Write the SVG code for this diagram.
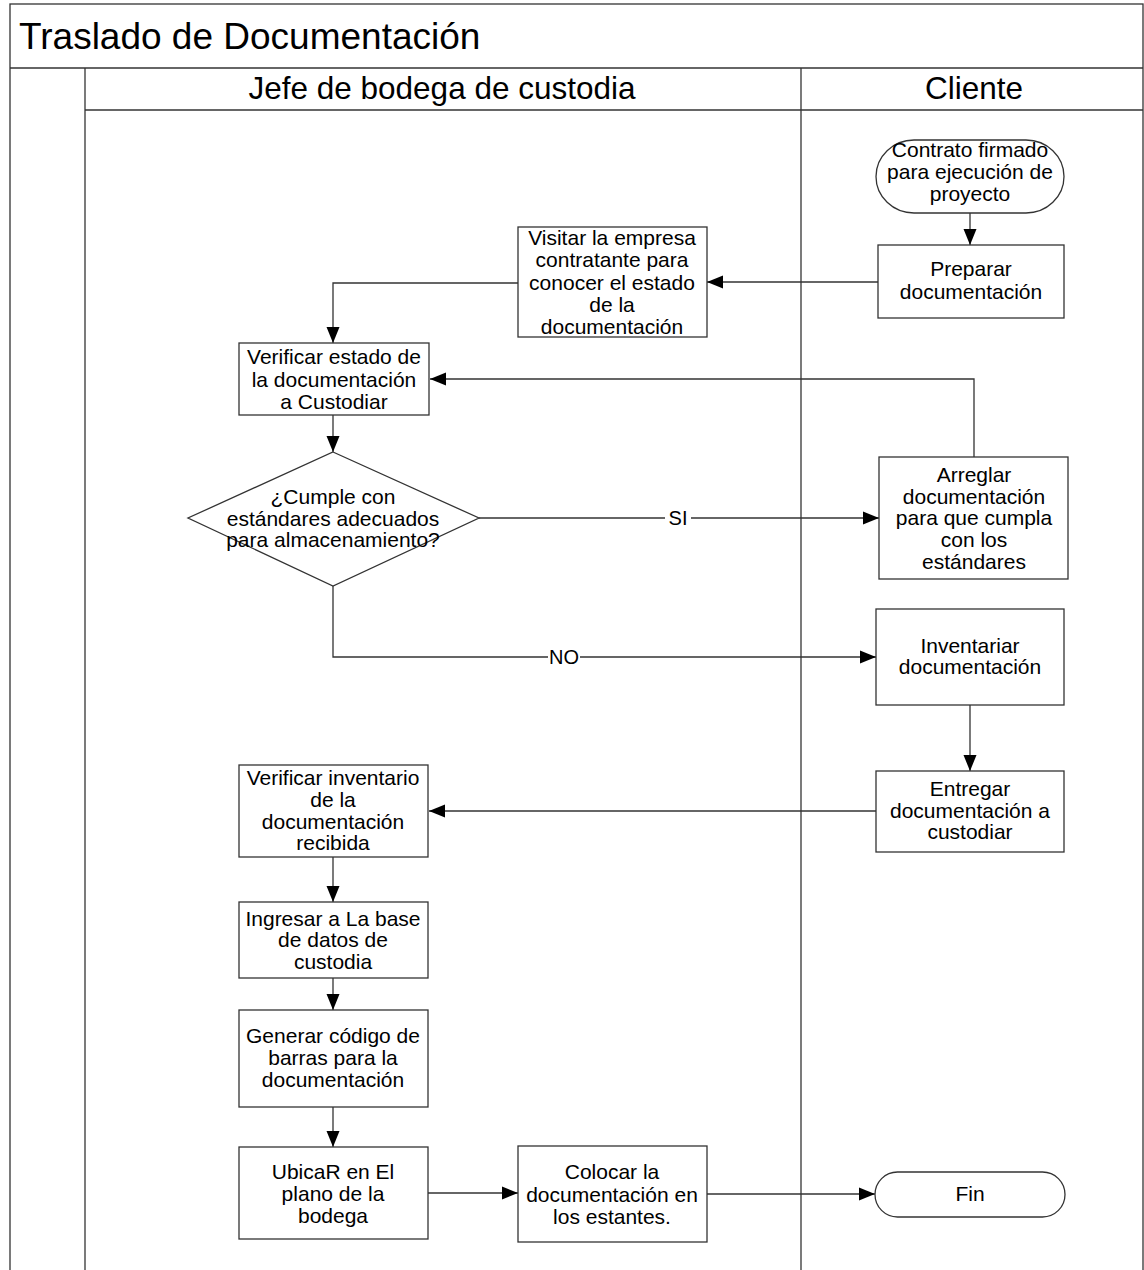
<svg xmlns="http://www.w3.org/2000/svg" width="1144" height="1270" viewBox="0 0 1144 1270">
<defs>
<marker id="arr" markerWidth="16" markerHeight="14" refX="16" refY="7" orient="auto" markerUnits="userSpaceOnUse">
<path d="M0,0.5 L16,7 L0,13.5 Z" fill="#000"/>
</marker>
<style>
.frame{fill:none;stroke:#333;stroke-width:1.3}
.box{fill:#fff;stroke:#333;stroke-width:1.3}
.t{font-family:"Liberation Sans",Arial,sans-serif;font-size:21px;fill:#000;text-anchor:middle}
.title{font-family:"Liberation Sans",Arial,sans-serif;font-size:37px;fill:#000}
.lane{font-family:"Liberation Sans",Arial,sans-serif;font-size:31.5px;fill:#000;text-anchor:middle}
.lbl{font-family:"Liberation Sans",Arial,sans-serif;font-size:20px;fill:#000;text-anchor:middle}
.c{fill:none;stroke:#333;stroke-width:1.3}
</style>
</defs>
<rect width="1144" height="1270" fill="#fff"/>
<g id="pool">
<rect class="frame" x="10" y="4" width="1133" height="1280"/>
<line class="frame" x1="10" y1="68" x2="1143" y2="68"/>
<line class="frame" x1="85" y1="68" x2="85" y2="1270"/>
<line class="frame" x1="85" y1="110" x2="1143" y2="110"/>
<line class="frame" x1="801" y1="68" x2="801" y2="1270"/>
<text class="title" x="19" y="49">Traslado de Documentación</text>
<text class="lane" x="442" y="99">Jefe de bodega de custodia</text>
<text class="lane" x="974" y="99">Cliente</text>
</g>
<g id="connectors">
<line class="c" x1="970" y1="213" x2="970" y2="245" marker-end="url(#arr)"/>
<line class="c" x1="878" y1="282" x2="707" y2="282" marker-end="url(#arr)"/>
<polyline class="c" points="518,283 333,283 333,343" marker-end="url(#arr)"/>
<line class="c" x1="333" y1="415" x2="333" y2="452" marker-end="url(#arr)"/>
<polyline class="c" points="974,457 974,379 430,379" marker-end="url(#arr)"/>
<line class="c" x1="479" y1="518" x2="879" y2="518" marker-end="url(#arr)"/>
<polyline class="c" points="333,586 333,657 876,657" marker-end="url(#arr)"/>
<line class="c" x1="970" y1="705" x2="970" y2="771" marker-end="url(#arr)"/>
<line class="c" x1="876" y1="811" x2="429" y2="811" marker-end="url(#arr)"/>
<line class="c" x1="333" y1="857" x2="333" y2="902" marker-end="url(#arr)"/>
<line class="c" x1="333" y1="978" x2="333" y2="1010" marker-end="url(#arr)"/>
<line class="c" x1="333" y1="1107" x2="333" y2="1147" marker-end="url(#arr)"/>
<line class="c" x1="428" y1="1193" x2="518" y2="1193" marker-end="url(#arr)"/>
<line class="c" x1="707" y1="1194" x2="875" y2="1194" marker-end="url(#arr)"/>
<rect x="665" y="507" width="26" height="22" fill="#fff"/>
<text class="lbl" x="678" y="525">SI</text>
<rect x="548" y="646" width="32" height="22" fill="#fff"/>
<text class="lbl" x="564" y="664">NO</text>
</g>
<g id="n-start">
<rect class="box" x="876" y="140" width="188" height="73" rx="38" ry="36.5"/>
<text class="t" x="970" y="157">Contrato firmado</text>
<text class="t" x="970" y="179">para ejecución de</text>
<text class="t" x="970" y="201">proyecto</text>
</g>
<g id="n-preparar">
<rect class="box" x="878" y="245" width="186" height="73"/>
<text class="t" x="971" y="276">Preparar</text>
<text class="t" x="971" y="299">documentación</text>
</g>
<g id="n-visitar">
<rect class="box" x="518" y="227" width="189" height="110"/>
<text class="t" x="612" y="245">Visitar la empresa</text>
<text class="t" x="612" y="267">contratante para</text>
<text class="t" x="612" y="290">conocer el estado</text>
<text class="t" x="612" y="312">de la</text>
<text class="t" x="612" y="334">documentación</text>
</g>
<g id="n-verificar-estado">
<rect class="box" x="239" y="343" width="190" height="72"/>
<text class="t" x="334" y="364">Verificar estado de</text>
<text class="t" x="334" y="387">la documentación</text>
<text class="t" x="334" y="409">a Custodiar</text>
</g>
<g id="n-decision">
<polygon class="box" points="333,452 479,518 333,586 188,518"/>
<text class="t" x="333" y="504">¿Cumple con</text>
<text class="t" x="333" y="526">estándares adecuados</text>
<text class="t" x="333" y="547">para almacenamiento?</text>
</g>
<g id="n-arreglar">
<rect class="box" x="879" y="457" width="189" height="122"/>
<text class="t" x="974" y="482">Arreglar</text>
<text class="t" x="974" y="504">documentación</text>
<text class="t" x="974" y="525">para que cumpla</text>
<text class="t" x="974" y="547">con los</text>
<text class="t" x="974" y="569">estándares</text>
</g>
<g id="n-inventariar">
<rect class="box" x="876" y="609" width="188" height="96"/>
<text class="t" x="970" y="653">Inventariar</text>
<text class="t" x="970" y="674">documentación</text>
</g>
<g id="n-entregar">
<rect class="box" x="876" y="771" width="188" height="81"/>
<text class="t" x="970" y="796">Entregar</text>
<text class="t" x="970" y="818">documentación a</text>
<text class="t" x="970" y="839">custodiar</text>
</g>
<g id="n-verificar-inventario">
<rect class="box" x="239" y="765" width="189" height="92"/>
<text class="t" x="333" y="785">Verificar inventario</text>
<text class="t" x="333" y="807">de la</text>
<text class="t" x="333" y="829">documentación</text>
<text class="t" x="333" y="850">recibida</text>
</g>
<g id="n-ingresar">
<rect class="box" x="239" y="902" width="189" height="76"/>
<text class="t" x="333" y="926">Ingresar a La base</text>
<text class="t" x="333" y="947">de datos de</text>
<text class="t" x="333" y="969">custodia</text>
</g>
<g id="n-generar">
<rect class="box" x="239" y="1010" width="189" height="97"/>
<text class="t" x="333" y="1043">Generar código de</text>
<text class="t" x="333" y="1065">barras para la</text>
<text class="t" x="333" y="1087">documentación</text>
</g>
<g id="n-ubicar">
<rect class="box" x="239" y="1147" width="189" height="92"/>
<text class="t" x="333" y="1179">UbicaR en El</text>
<text class="t" x="333" y="1201">plano de la</text>
<text class="t" x="333" y="1223">bodega</text>
</g>
<g id="n-colocar">
<rect class="box" x="518" y="1146" width="189" height="96"/>
<text class="t" x="612" y="1179">Colocar la</text>
<text class="t" x="612" y="1202">documentación en</text>
<text class="t" x="612" y="1224">los estantes.</text>
</g>
<g id="n-fin">
<rect class="box" x="875" y="1172" width="190" height="45" rx="22.5" ry="22.5"/>
<text class="t" x="970" y="1201">Fin</text>
</g>
</svg>
